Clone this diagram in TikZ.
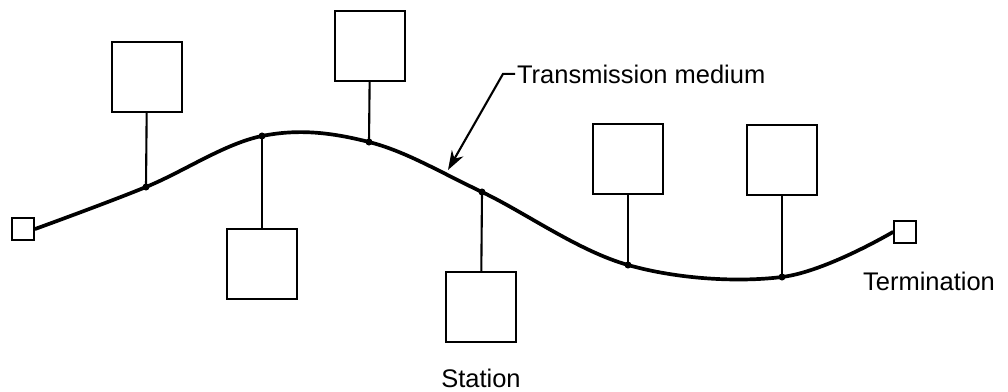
\documentclass[tikz,border=0pt]{standalone}
\usepackage{fontspec}
\setmainfont{Liberation Sans}
\usepackage{tikz}
\usetikzlibrary{shapes,arrows.meta,positioning,calc}

\tikzset{
  station/.style={draw, line width=1.2pt, minimum size=1.4cm, inner sep=0pt},
  termbox/.style={draw, line width=1.2pt, minimum size=0.44cm, inner sep=0pt},
  medium/.style={line width=2.1pt, line cap=round},
  stem/.style={line width=1.2pt},
  lbl/.style={font=\fontsize{14.5}{17}\selectfont, inner sep=1pt},
}

\begin{document}
\begin{tikzpicture}[x=0.02cm, y=-0.02cm]
    \useasboundingbox (0,0) rectangle (1008,392);

    % terminations at both ends of the cable
    \node[termbox] (t1) at (23,229) {};
    \node[termbox] (t2) at (905,232) {};

    % taps on the cable
    \coordinate (p1) at (146,187);
    \coordinate (p2) at (262,136);
    \coordinate (p3) at (369,142);
    \coordinate (p4) at (482,192);
    \coordinate (p5) at (628,265);
    \coordinate (p6) at (782,277);
    \coordinate (mtip) at (448,170);

    \draw[medium] plot[smooth, tension=0.6] coordinates
        {(t1.east) (p1) (p2) (p3) (p4) (p5) (p6) (t2.west)};

    % stations
    \node[station] (s1) at (147,77) {};
    \node[station] (s2) at (262,264) {};
    \node[station] (s3) at (370,46) {};
    \node[station] (s4) at (481,307) {};
    \node[station] (s5) at (628,159) {};
    \node[station] (s6) at (782,160) {};

    \foreach \i in {1,...,6}{
        \draw[stem] (s\i) -- (p\i);
        \fill (p\i) circle (2pt);
    }

    % labels
    \node[lbl, anchor=base west] (mlabel) at (515,83) {Transmission medium};
    \node[lbl, anchor=base] (slabel) at (481,387) {Station};
    \node[lbl, anchor=base] (tlabel) at (929,290) {Termination};

    \draw[stem, -{Stealth[length=11pt, width=7.5pt]}] (mlabel.west) -- ++(-12,0) -- (mtip);
\end{tikzpicture}
\end{document}
